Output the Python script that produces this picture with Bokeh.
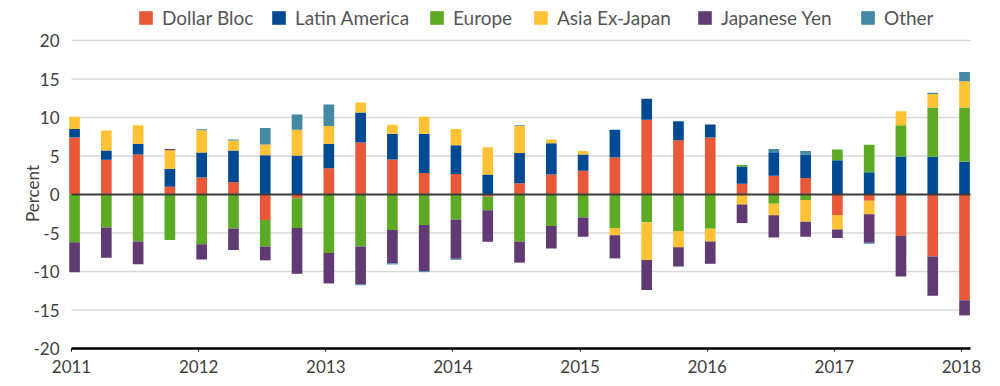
from bokeh.plotting import figure
from bokeh.models import ColumnDataSource, Range1d, FixedTicker, Legend, LegendItem
from bokeh.embed import file_html
from bokeh.resources import INLINE

quarters = ["2011Q1", "2011Q2", "2011Q3", "2011Q4",
            "2012Q1", "2012Q2", "2012Q3", "2012Q4",
            "2013Q1", "2013Q2", "2013Q3", "2013Q4",
            "2014Q1", "2014Q2", "2014Q3", "2014Q4",
            "2015Q1", "2015Q2", "2015Q3", "2015Q4",
            "2016Q1", "2016Q2", "2016Q3", "2016Q4",
            "2017Q1", "2017Q2", "2017Q3", "2017Q4",
            "2018Q1"]

dollar_bloc = [7.4, 4.5, 5.2, 1.0, 2.2, 1.6, -3.3, -0.5, 3.4, 6.75, 4.55, 2.8, 2.65, -0.3, 1.45,
               2.6, 3.1, 4.8, 9.7, 7.05, 7.4, 1.4, 2.45, 2.15, -2.65, -0.8, -5.4, -8.05, -13.75]
latin_america = [1.1, 1.2, 1.4, 2.35, 3.25, 4.1, 5.1, 5.05, 3.2, 3.9, 3.35, 5.1, 3.75, 2.6, 3.95,
                 4.05, 2.1, 3.6, 2.75, 2.45, 1.7, 2.25, 3.05, 3.05, 4.45, 2.9, 4.95, 4.9, 4.25]
europe = [-6.2, -4.3, -6.1, -5.9, -6.45, -4.4, -3.45, -3.85, -7.6, -6.75, -4.6, -3.95, -3.25, -1.75, -6.1,
          -4.1, -3.0, -4.35, -3.6, -4.75, -4.45, 0.17, -1.2, -0.7, 1.4, 3.55, 4.05, 6.4, 7.05]
asia_ex_japan = [1.6, 2.6, 2.4, 2.4, 2.9, 1.3, 1.4, 3.35, 2.3, 1.3, 1.15, 2.2, 2.1, 3.55, 3.5,
                 0.5, 0.45, -0.95, -4.9, -2.1, -1.65, -1.3, -1.5, -2.85, -1.9, -1.75, 1.8, 1.75, 3.4]
japanese_yen = [-3.9, -3.9, -2.95, 0.17, -2.0, -2.8, -1.8, -5.95, -3.95, -4.9, -4.35, -6.0, -5.1, -4.1, -2.75,
                -2.9, -2.5, -3.0, -3.9, -2.5, -2.9, -2.4, -2.9, -1.95, -1.1, -3.7, -5.25, -5.1, -1.95]
other = [0.0, 0.0, 0.0, 0.0, 0.13, 0.15, 2.15, 2.0, 2.8, -0.13, -0.13, -0.13, -0.13, 0.0, 0.1,
         0.0, 0.0, 0.0, 0.0, 0.0, 0.0, 0.0, 0.4, 0.45, 0.0, -0.13, 0.0, 0.17, 1.2]

series_names = ["Dollar Bloc", "Latin America", "Europe", "Asia Ex-Japan", "Japanese Yen", "Other"]
series_values = [dollar_bloc, latin_america, europe, asia_ex_japan, japanese_yen, other]
series_colors = ["#E8593A", "#004A93", "#5DAB25", "#FFC234", "#623A73", "#4488A3"]

year_ticks = [2011, 2012, 2013, 2014, 2015, 2016, 2017, 2018]
y_ticks = [-20, -15, -10, -5, 0, 5, 10, 15, 20]
y_tick_labels = ["-20", "-15", "-10", "-5", "0", "5", "10", "15", "20"]

# ---- styling / layout constants ----
FONT = "Lato"
BAR_OFFSET = 0.024
BAR_WIDTH = 0.084
AREA_X = (2011, 2018.071)           # horizontal extent of the plotting area
LEGEND_X = [137, 270, 428, 532, 696, 859]   # screen px of each legend swatch

x = [int(q[:4]) + (int(q[-1]) - 1) / 4 + BAR_OFFSET for q in quarters]

# The frame covers the whole canvas; the axes are pinned inside it.
p = figure(width=1000, height=386, output_backend="svg", toolbar_location=None,
           x_range=Range1d(2010.4416, 2018.3069), y_range=Range1d(-24.935, 25.195),
           min_border_left=0, min_border_right=0, min_border_top=0, min_border_bottom=0)
p.outline_line_color = None
p.background_fill_color = "white"
p.border_fill_color = "white"
p.xgrid.visible = False
p.ygrid.visible = False

# horizontal gridlines (behind bars)
grid_y = [t for t in y_ticks if t not in (-20, 0)]
p.segment(x0=[AREA_X[0]] * len(grid_y), x1=[AREA_X[1]] * len(grid_y), y0=grid_y, y1=grid_y,
          line_color="#D9D9D9", line_width=1.5)

pos = [0.0] * len(x)
neg = [0.0] * len(x)
renderers = []
for name, vals, col in zip(series_names, series_values, series_colors):
    bottoms, tops = [], []
    for i, v in enumerate(vals):
        if v >= 0:
            b = pos[i]; t = b + v; pos[i] = t
        else:
            b = neg[i]; t = b + v; neg[i] = t
        bottoms.append(b); tops.append(t)
    src = ColumnDataSource(dict(x=x, top=tops, bottom=bottoms))
    r = p.vbar(x="x", top="top", bottom="bottom", width=BAR_WIDTH, source=src,
               fill_color=col, line_color=None)
    renderers.append(r)

# zero line (over bars)
p.segment(x0=[AREA_X[0]], x1=[AREA_X[1]], y0=[0], y1=[0], line_color="#3C3C3C", line_width=2)

# x axis pinned at y = -20
xa = p.xaxis[0]
xa.fixed_location = -20
xa.bounds = AREA_X
xa.ticker = FixedTicker(ticks=year_ticks)
xa.axis_line_color = "black"
xa.axis_line_width = 2.5
xa.major_tick_out = 3
xa.major_tick_in = 0
xa.major_tick_line_color = "black"
xa.minor_tick_line_color = None
xa.major_label_standoff = 8
xa.major_label_text_font = FONT
xa.major_label_text_font_size = "17px"
xa.major_label_text_color = "#404040"

# y axis pinned at the left edge of the plotting area
ya = p.yaxis[0]
ya.fixed_location = AREA_X[0]
ya.ticker = FixedTicker(ticks=y_ticks)
ya.major_label_overrides = dict(zip(y_ticks, y_tick_labels))
ya.axis_line_color = None
ya.major_tick_line_color = None
ya.minor_tick_line_color = None
ya.major_tick_out = 0
ya.major_tick_in = 0
ya.major_label_standoff = 12
ya.major_label_text_font = FONT
ya.major_label_text_font_size = "17px"
ya.major_label_text_color = "#404040"
ya.axis_label = "Percent"
ya.axis_label_text_font = FONT
ya.axis_label_text_font_size = "17px"
ya.axis_label_text_font_style = "normal"
ya.axis_label_text_color = "#404040"
ya.axis_label_standoff = -13

for name, r, lx in zip(series_names, renderers, LEGEND_X):
    lg = Legend(items=[LegendItem(label=name, renderers=[r])], orientation="horizontal",
                location=(lx, 357), padding=0, margin=0, spacing=0,
                glyph_width=17, glyph_height=17, label_height=22, label_standoff=8,
                label_text_font=FONT, label_text_font_size="19px",
                label_text_color="#555555", background_fill_alpha=0, border_line_color=None)
    p.add_layout(lg)

open("out.html", "w").write(file_html(p, INLINE))
